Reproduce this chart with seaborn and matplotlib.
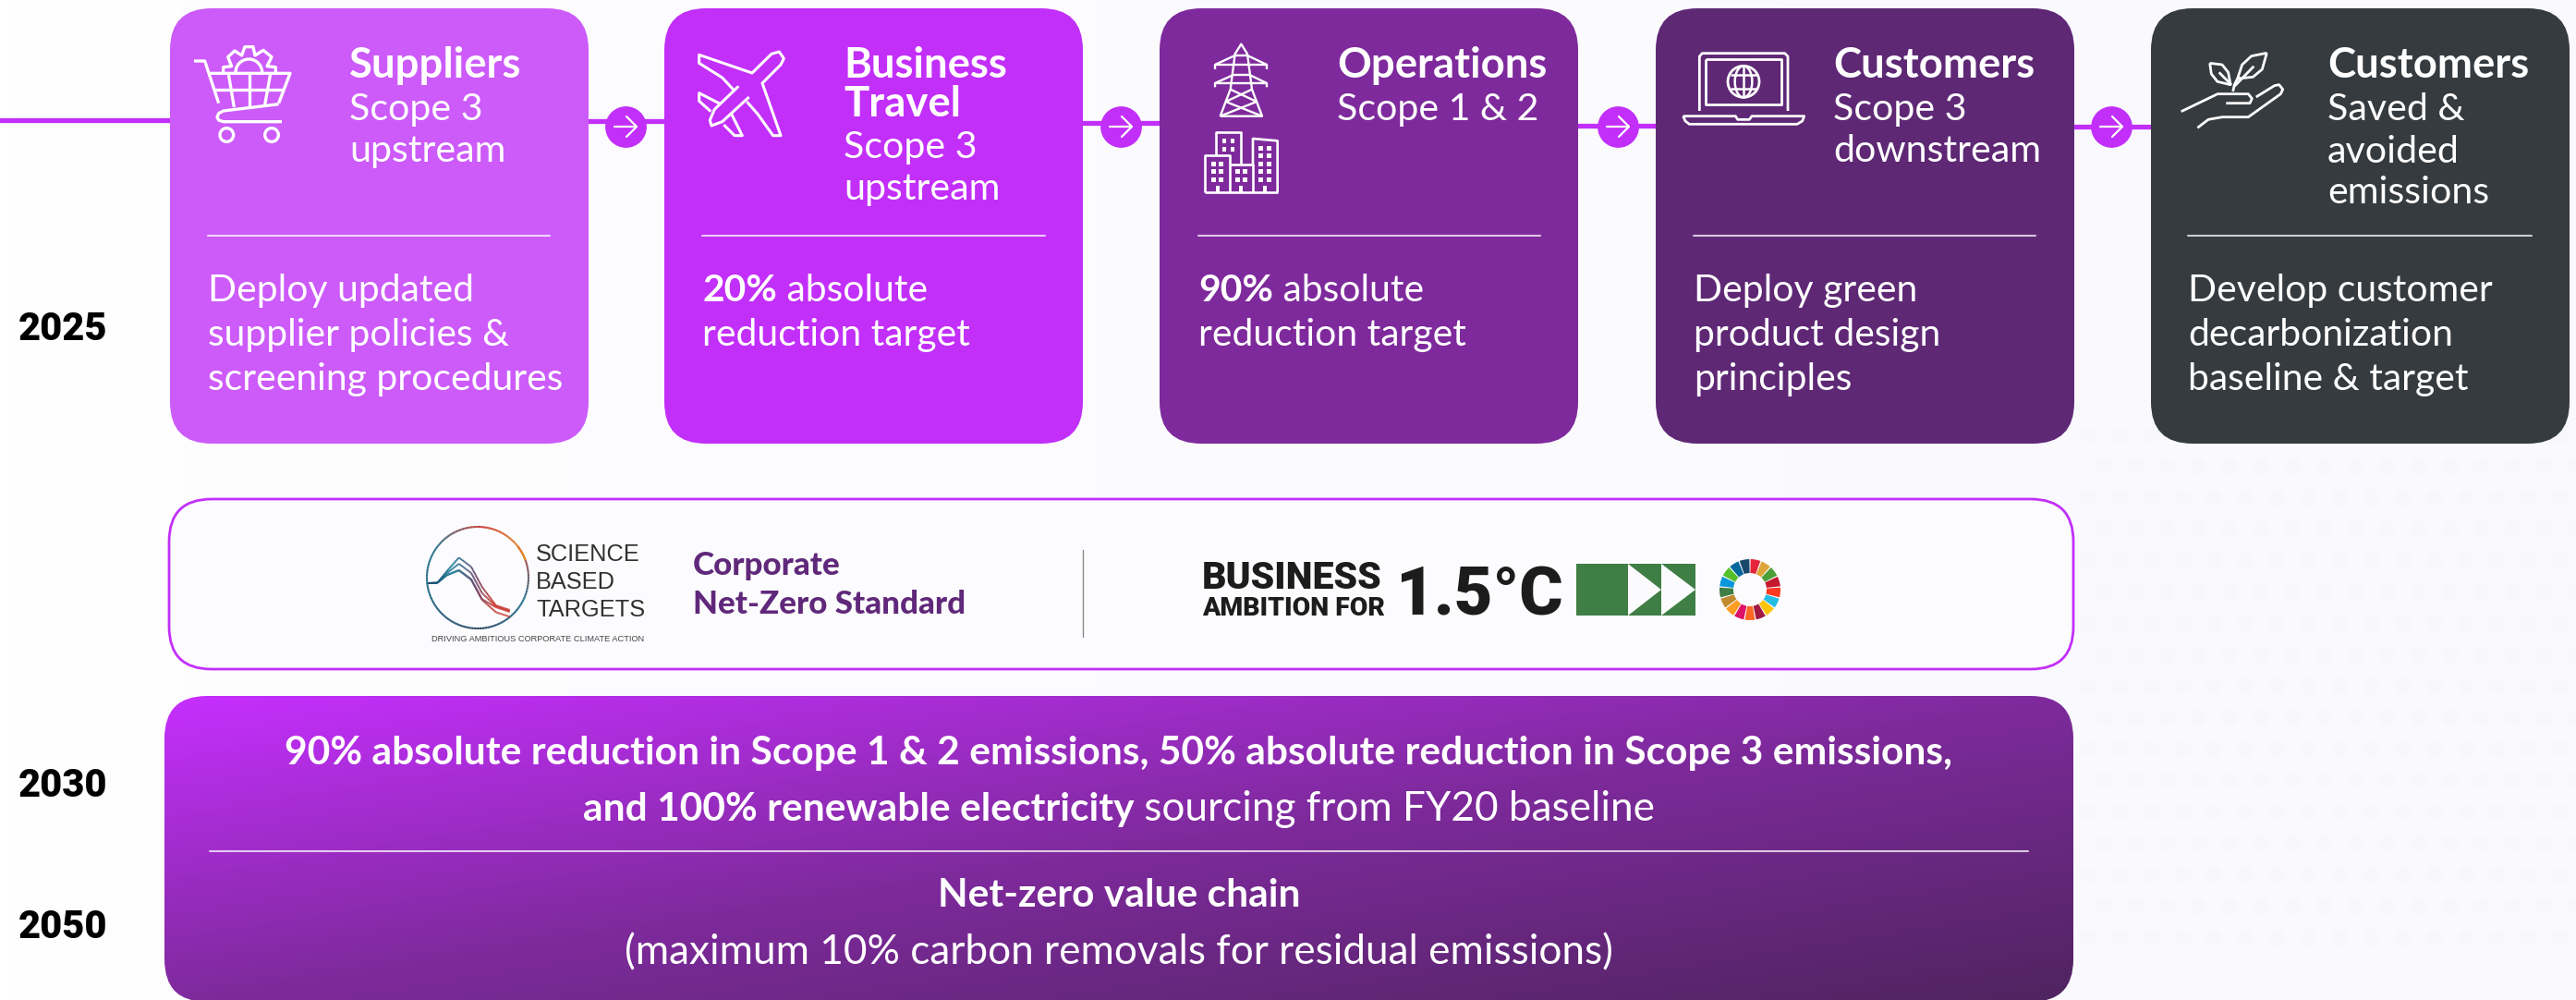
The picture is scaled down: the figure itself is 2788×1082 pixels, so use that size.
import numpy as np
import matplotlib
matplotlib.use("Agg")
import matplotlib.pyplot as plt
import seaborn as sns
from matplotlib.patches import FancyBboxPatch, Circle, Ellipse, Polygon, Rectangle, Wedge, Arc
from matplotlib.colors import LinearSegmentedColormap
from matplotlib.collections import LineCollection

# ---------- content ----------
card_titles = [["Suppliers"], ["Business", "Travel"], ["Operations"], ["Customers"], ["Customers"]]
card_scopes = [["Scope 3", "upstream"], ["Scope 3", "upstream"], ["Scope 1 & 2"],
               ["Scope 3", "downstream"], ["Saved &", "avoided", "emissions"]]
card_bodies = [
    [[("Deploy updated", 0)], [("supplier policies &", 0)], [("screening procedures", 0)]],
    [[("20%", 1), (" absolute", 0)], [("reduction target", 0)]],
    [[("90%", 1), (" absolute", 0)], [("reduction target", 0)]],
    [[("Deploy green", 0)], [("product design", 0)], [("principles", 0)]],
    [[("Develop customer", 0)], [("decarbonization", 0)], [("baseline & target", 0)]],
]
card_colors = ["#cc5bf9", "#c22ff9", "#7e2a9c", "#5e2875", "#363b40"]
years = ["2025", "2030", "2050"]
banner_lines = [
    [("90% absolute reduction in Scope 1 & 2 emissions, 50% absolute reduction in Scope 3 emissions,", 1)],
    [("and 100% renewable electricity", 1), (" sourcing from FY20 baseline", 0)],
    [("Net-zero value chain", 1)],
    [("(maximum 10% carbon removals for residual emissions)", 0)],
]
sdg_colors = ["#E5243B", "#DDA63A", "#4C9F38", "#C5192D", "#FF3A21", "#26BDE2", "#FCC30B", "#A21942",
              "#FD6925", "#DD1367", "#FD9D24", "#BF8B2E", "#3F7E44", "#0A97D9", "#56C02B", "#00689D", "#19486A"]

# ---------- layout ----------
W, H = 2788, 1082
card_left = [184, 719, 1255, 1792, 2328]
card_w = 453
card_top, card_bot = 9, 480
title_x = [378, 913, 1447, 1984, 2519]
rule_x = [(225, 595), (760, 1131), (1297, 1667), (1833, 2203), (2368, 2740)]
title_base = [[84], [84, 126], [84], [84], [84]]
scope_base = [[130, 175], [171, 216], [130], [130, 175], [130, 176, 220]]
body_base = [326, 374, 422]
FONT = "Lato"
PURPLE = "#c22ff9"

sns.set_theme(style="white")
plt.rcParams["font.family"] = [FONT, "DejaVu Sans"]

fig = plt.figure(figsize=(W / 100, H / 100), dpi=100)
ax = fig.add_axes([0, 0, 1, 1])
ax.set_axis_off()

# background
bg = LinearSegmentedColormap.from_list("bg", ["#ffffff", "#fafafe"])
ax.imshow(np.linspace(0, 1, 256)[None, :] ** 0.6, extent=(0, W, H, 0), cmap=bg, aspect="auto", zorder=0)
gx, gy = np.meshgrid(np.arange(2260, W, 34.0), np.arange(470, 1040, 34.0))
gx = gx + (np.arange(gx.shape[0])[:, None] % 2) * 17
ax.scatter(gx.ravel(), gy.ravel(), s=170, color="#eeeef8", alpha=0.2, linewidths=0, zorder=0.5)


def rbox(x0, y0, x1, y1, r=45, **kw):
    p = FancyBboxPatch((x0, y0), x1 - x0, y1 - y0, boxstyle=f"round,pad=0,rounding_size={r}",
                       mutation_aspect=1, **kw)
    ax.add_patch(p)
    return p


def runs(x, y, parts, size, color="white", ha="left", w0=400, w1=700, size1=None):
    r = fig.canvas.get_renderer()
    arts, widths = [], []
    for s, b in parts:
        t = ax.text(0, y, s, fontsize=(size1 or size) if b else size, color=color, fontweight=w1 if b else w0,
                    va="baseline", ha="left", zorder=6, family=[FONT, "DejaVu Sans"])
        arts.append(t)
        widths.append(r.get_text_width_height_descent(s, t.get_fontproperties(), False)[0])
    total = sum(widths)
    cx = x - total / 2 if ha == "center" else x
    for t, w_ in zip(arts, widths):
        t.set_x(cx)
        cx += w_


def line(ox, oy, pts, lw=2.4, color="white", closed=False, z=6):
    a = np.array(pts, float) / 3 + [ox, oy]
    if closed:
        a = np.vstack([a, a[0]])
    ax.plot(a[:, 0], a[:, 1], color=color, lw=lw, solid_joinstyle="round", solid_capstyle="butt", zorder=z)


def circ(ox, oy, x, y, r, lw=2.4, color="white"):
    ax.add_patch(Circle((ox + x / 3, oy + y / 3), r / 3, fill=False, ec=color, lw=lw, zorder=6))


# connectors
conn_x = [(0, 186), (636, 720), (1172, 1256), (1708, 1793), (2244, 2329)]
conn_y = [130, 131, 133, 136, 137]
for (a, b), yy in zip(conn_x, conn_y):
    sns.lineplot(x=[a, b], y=[yy, yy], color=PURPLE, lw=3.8, ax=ax, zorder=1, legend=False, errorbar=None)
circle_x = [677, 1213, 1751, 2285]
sns.scatterplot(x=circle_x, y=[137] * 4, s=1040, color=PURPLE, linewidth=0, ax=ax, zorder=2, legend=False)
for cx in circle_x:
    ax.plot([cx - 12, cx + 12], [137, 137], color="white", lw=1.6, zorder=3)
    ax.plot([cx + 1, cx + 12, cx + 1], [126, 137, 148], color="white", lw=1.6, zorder=3)

# cards
for i in range(5):
    rbox(card_left[i], card_top, card_left[i] + card_w, card_bot, fc=card_colors[i], ec="none", zorder=4)
    ax.plot(rule_x[i], [255, 255], color="white", alpha=0.75, lw=1.5, zorder=5)
    for s, yy in zip(card_titles[i], title_base[i]):
        runs(title_x[i], yy, [(s, 1)], 32.8, w1=700)
    for s, yy in zip(card_scopes[i], scope_base[i]):
        runs(title_x[i], yy, [(s, 0)], 29.6)
    for parts, yy in zip(card_bodies[i], body_base):
        runs(rule_x[i][0], yy, parts, 29.4)

# icon: cart
o = (190, 30)
line(*o, [(60, 108), (95, 108), (140, 245)])
line(*o, [(112, 148), (372, 148), (335, 245)])
line(*o, [(125, 202), (352, 202)])
line(*o, [(172, 150), (190, 258)])
line(*o, [(240, 150), (240, 255)])
line(*o, [(308, 150), (290, 250)])
line(*o, [(335, 248), (155, 270), (140, 278), (135, 290), (140, 300), (155, 305), (345, 305)])
circ(*o, 166, 348, 22)
circ(*o, 312, 348, 22)
ax.add_patch(Arc((190 + 238 / 3, 30 + 145 / 3), 86 / 3, 86 / 3, theta1=180, theta2=360, ec="white", lw=2.4, zorder=6))
line(*o, [(155, 145), (155, 128), (182, 125), (170, 95), (192, 75), (215, 90), (225, 62), (252, 62), (258, 90),
          (285, 73), (312, 95), (297, 125), (325, 128), (325, 145)])
# icon: plane
o = (740, 30)
line(*o, [(165, 205), (125, 162), (50, 115), (50, 88), (222, 147), (285, 85), (310, 78), (325, 100), (315, 120),
          (255, 180), (315, 350), (290, 350), (240, 280), (205, 240)], lw=2.2)
line(*o, [(178, 190), (100, 265), (85, 300), (90, 318), (125, 305), (212, 225)], lw=2.2)
line(*o, [(120, 248), (50, 212), (50, 238), (88, 272)], lw=2.2)
line(*o, [(130, 315), (165, 350), (190, 350), (155, 280)], lw=2.2)
# icon: pylon
o = (1290, 35)
line(*o, [(92, 272), (125, 185), (140, 70), (160, 38), (180, 70), (195, 185), (228, 272), (92, 272)], lw=1.7)
line(*o, [(75, 120), (75, 105), (140, 75), (180, 75), (243, 105), (243, 120)], lw=1.7)
line(*o, [(75, 105), (243, 105)], lw=1.7)
line(*o, [(75, 178), (75, 165), (135, 138), (187, 138), (243, 165), (243, 178)], lw=1.7)
line(*o, [(75, 165), (243, 165)], lw=1.7)
line(*o, [(125, 185), (210, 225), (92, 272)], lw=1.7)
line(*o, [(195, 185), (110, 225), (228, 272)], lw=1.7)
# icon: buildings
line(*o, [(78, 400), (78, 325), (158, 325), (158, 425)], lw=1.9)
line(*o, [(42, 520), (42, 400), (122, 400), (122, 520)], lw=1.9)
line(*o, [(122, 428), (198, 428), (198, 520)], lw=1.9)
line(*o, [(198, 428), (198, 345), (278, 352), (278, 520)], lw=1.9)
line(*o, [(42, 520), (278, 520)], lw=1.9)
win = [(98, 345), (125, 345), (98, 372), (125, 372), (63, 420), (88, 420), (63, 445), (88, 445), (63, 472), (88, 472),
       (141, 445), (166, 445), (141, 472), (166, 472), (217, 370), (243, 370), (217, 394), (243, 394), (217, 420),
       (243, 420), (217, 445), (243, 445), (217, 472), (243, 472)]
for wx, wy in win:
    ax.add_patch(Rectangle((1290 + wx / 3, 35 + wy / 3), 4.6, 4.6, fc="white", ec="none", zorder=6))
for dx in (77, 154, 232):
    ax.add_patch(Rectangle((1290 + dx / 3, 35 + 498 / 3), 4, 7, fc="white", ec="none", zorder=6))
# icon: laptop
o = (1810, 45)
line(*o, [(88, 225), (88, 48), (97, 38), (365, 38), (375, 48), (375, 225)], lw=2)
line(*o, [(108, 58), (355, 58), (355, 205), (108, 205)], closed=True, lw=2)
circ(*o, 231, 130, 51, lw=2)
ax.add_patch(Ellipse((1810 + 231 / 3, 45 + 130 / 3), 56 / 3, 102 / 3, fill=False, ec="white", lw=1.8, zorder=6))
line(*o, [(231, 80), (231, 180)], lw=1.8)
line(*o, [(188, 108), (274, 108)], lw=1.8)
line(*o, [(188, 152), (274, 152)], lw=1.8)
line(*o, [(35, 242), (205, 242), (212, 253), (250, 253), (258, 242), (428, 242), (422, 258), (405, 268), (55, 268),
          (42, 258)], closed=True, lw=2)
# icon: hand
o = (2350, 50)
line(*o, [(32, 212), (140, 160), (150, 155), (250, 155), (262, 170), (255, 185), (178, 185)], lw=2)
line(*o, [(275, 165), (335, 128), (350, 125), (362, 140), (355, 155), (250, 230), (165, 230), (120, 238), (85, 265)], lw=2)
line(*o, [(125, 55), (165, 60), (185, 85), (192, 125), (150, 115), (130, 90)], closed=True, lw=2)
line(*o, [(310, 22), (260, 32), (230, 60), (215, 105), (265, 100), (295, 75)], closed=True, lw=2)
line(*o, [(200, 147), (205, 125), (215, 105)], lw=2)
line(*o, [(155, 85), (195, 125)], lw=2)
line(*o, [(268, 65), (205, 130)], lw=2)

# year labels
for s, yy in zip(years, [368, 862, 1015]):
    ax.text(20, yy, s, fontsize=30, fontweight=800, color="black", family="Roboto", va="baseline", zorder=6)

# logo panel
rbox(183, 540, 2244, 724, r=46, fc="#fcfcff", ec=PURPLE, lw=2, zorder=3)

# SBTi emblem
cx0, cy0, rr = 517, 625, 55
ang = np.radians(np.linspace(-38, 340, 240))
ax_pts = np.c_[cx0 + rr * np.cos(ang), cy0 + rr * np.sin(ang)]
seg = np.stack([ax_pts[:-1], ax_pts[1:]], axis=1)
emb = LinearSegmentedColormap.from_list("emb", ["#f09a1f", "#c8392e", "#1f6f8b", "#1c5f80", "#24405f", "#1f6f8b", "#c8392e"])
ax.add_collection(LineCollection(seg, colors=emb(np.linspace(0, 1, len(seg))[::-1]), lw=1.5, zorder=6))
for peak, end in [(130, 300), (150, 303), (170, 306), (172, 322)]:
    t = np.linspace(0, 1, 120)
    bx = np.interp(t, [0, .07, .18, .32, .45, .6, .8, 1], [40, 70, 100, 140, 180, 215, 260, 305])
    by = np.interp(t, [0, .07, .18, .32, .45, .6, .8, 1], [213, 212, 175 + (peak - 130) * .3, peak, peak + 30, peak + 95, end - 15, end])
    pts = np.c_[450 + bx / 3, 560 + by / 3]
    sg = np.stack([pts[:-1], pts[1:]], axis=1)
    cm = LinearSegmentedColormap.from_list("cv", ["#1c4f70", "#1f7f9b", "#6a4b6e", "#c8392e", "#c8392e"])
    ax.add_collection(LineCollection(sg, colors=cm(t[:-1]), lw=1.4, zorder=6))
for s, yy in zip(["SCIENCE", "BASED", "TARGETS"], [607, 637, 667]):
    ax.text(580, yy, s, fontsize=18.3, color="#303030", family="Liberation Sans", va="baseline", zorder=6)
ax.text(467, 694, "DRIVING AMBITIOUS CORPORATE CLIMATE ACTION", fontsize=6.65, color="#444444",
        family="Liberation Sans", va="baseline", zorder=6)
for s, yy in zip(["Corporate", "Net-Zero Standard"], [622, 664]):
    ax.text(750, yy, s, fontsize=25.2, fontweight=900, color="#60287a", va="baseline", zorder=6, family=FONT)
ax.plot([1172, 1172], [595, 689], color="#8a8a8a", lw=1, zorder=6)
# Business Ambition
ax.text(1301, 637, "BUSINESS", fontsize=29.5, fontweight=900, color="#1c1c1c", family="Roboto", va="baseline", zorder=6)
ax.text(1301, 666, "AMBITION FOR", fontsize=20.4, fontweight=900, color="#1c1c1c", family="Roboto", va="baseline", zorder=6)
ax.text(1510, 666, "1.5°C", fontsize=52, fontweight=900, color="#1c1c1c", family="Roboto", va="baseline", zorder=6)
ax.add_patch(Rectangle((1706, 610), 129, 56, fc="#3f7e44", ec="none", zorder=6))
ax.add_patch(Polygon([(1762, 610), (1798, 638), (1762, 666)], fc="#fbfbfe", ec="none", zorder=7))
ax.add_patch(Polygon([(1798, 610), (1835, 638), (1798, 666)], fc="#fbfbfe", ec="none", zorder=7))
# SDG wheel
step = 360 / 17
for i, c in enumerate(sdg_colors):
    th0 = -90 + i * step + 1.2
    ax.add_patch(Wedge((1894, 638), 33, th0, th0 + step - 2.4, width=15, fc=c, ec="none", zorder=6))

# target banner
cmap = LinearSegmentedColormap.from_list("ban", ["#c62ffe", "#7e2a9c", "#4f245f"])
xx, yy = np.meshgrid(np.linspace(0, 1, 400), np.linspace(0, 1, 200))
im = ax.imshow(0.5 * xx + 0.5 * yy, extent=(178, 2244, 1084, 753), cmap=cmap, vmin=0, vmax=1, aspect="auto", zorder=3)
clip = rbox(178, 753, 2244, 1084, r=46, fc="none", ec="none", zorder=3)
im.set_clip_path(clip)
ax.plot([227, 2195], [921, 921], color="white", alpha=0.75, lw=1.5, zorder=5)
for parts, yy_, in zip(banner_lines, [827, 888, 981, 1043]):
    runs(1211, yy_, parts, 31.8, ha="center", w1=700, size1=30.6)

ax.set_xlim(0, W)
ax.set_ylim(H, 0)
fig.savefig("out.png", dpi=100, facecolor="white")
